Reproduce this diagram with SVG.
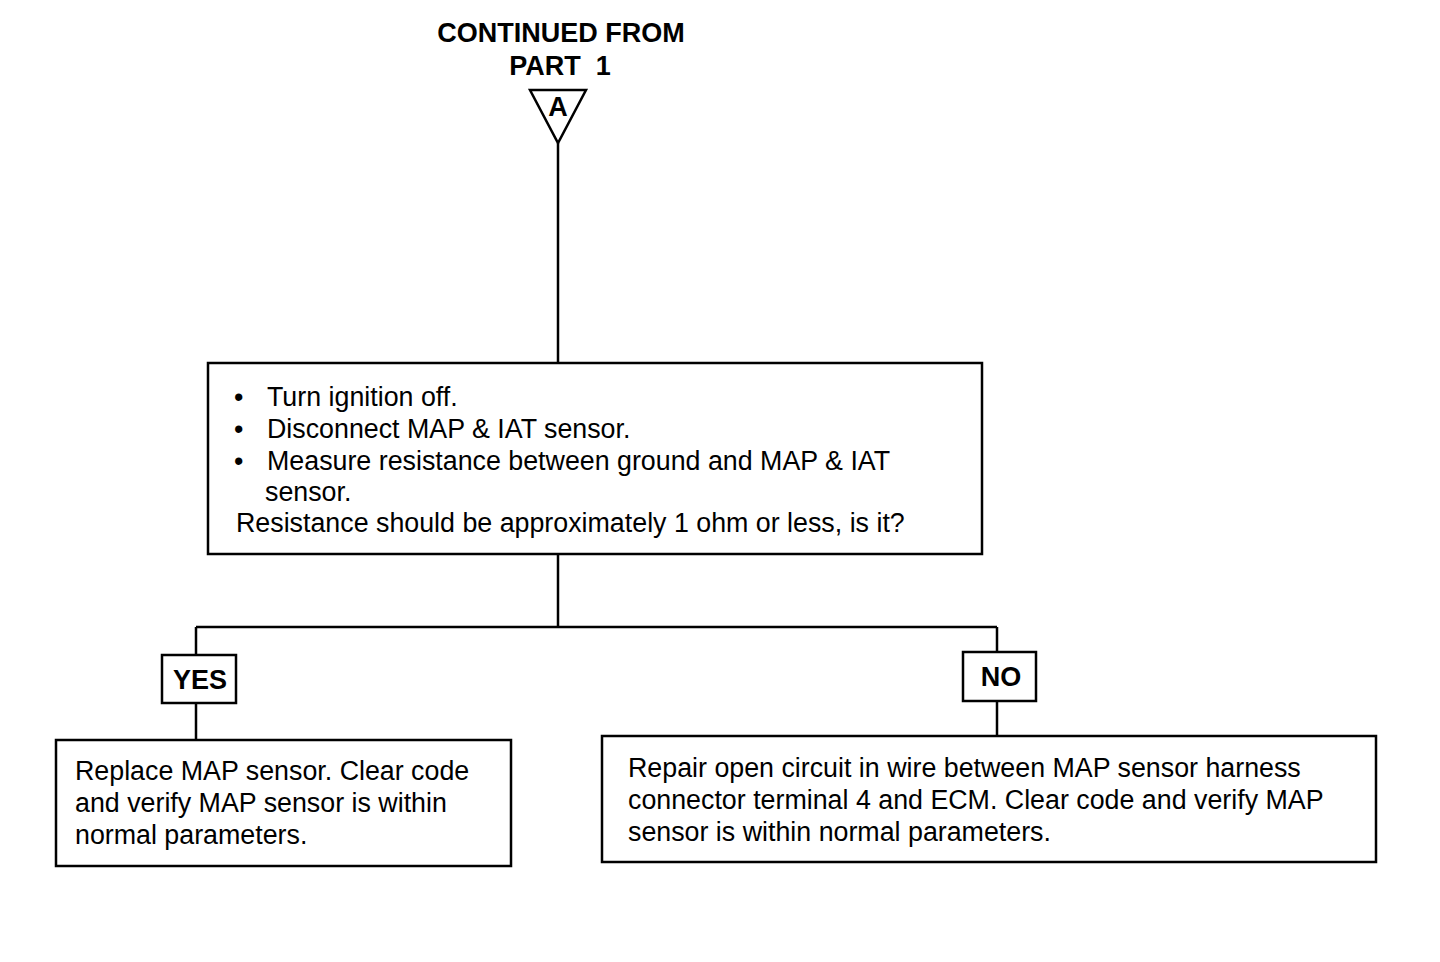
<svg xmlns="http://www.w3.org/2000/svg" width="1440" height="962" viewBox="0 0 1440 962">
<style>
.box{fill:#fff;stroke:#000;stroke-width:2.5}
.ln{stroke:#000;stroke-width:2.5;fill:none}
.t{font-family:"Liberation Sans",Arial,sans-serif;font-size:26.8px;fill:#000}
.b{font-family:"Liberation Sans",Arial,sans-serif;font-size:27px;font-weight:bold;fill:#000;white-space:pre}
</style>
<rect width="1440" height="962" fill="#fff"/>
<g id="connectors">
<line class="ln" x1="558" y1="143" x2="558" y2="363"/>
<line class="ln" x1="558" y1="554" x2="558" y2="627"/>
<line class="ln" x1="196" y1="627" x2="997" y2="627"/>
<line class="ln" x1="196" y1="627" x2="196" y2="655"/>
<line class="ln" x1="196" y1="703" x2="196" y2="740"/>
<line class="ln" x1="997" y1="627" x2="997" y2="652"/>
<line class="ln" x1="997" y1="701" x2="997" y2="736"/>
</g>
<g id="start">
<text class="b" x="561" y="42" text-anchor="middle">CONTINUED FROM</text>
<text class="b" x="560" y="75" text-anchor="middle">PART  1</text>
<polygon class="box" points="530,90 586,90 558,143"/>
<text class="b" x="558" y="116" text-anchor="middle" font-size="21">A</text>
</g>
<g id="check">
<rect class="box" x="208" y="363" width="774" height="191"/>
<text class="t" x="234" y="406">•</text><text class="t" x="267" y="406">Turn ignition off.</text>
<text class="t" x="234" y="438">•</text><text class="t" x="267" y="438">Disconnect MAP &amp; IAT sensor.</text>
<text class="t" x="234" y="470">•</text><text class="t" x="267" y="470">Measure resistance between ground and MAP &amp; IAT</text>
<text class="t" x="265" y="501">sensor.</text>
<text class="t" x="236" y="532">Resistance should be approximately 1 ohm or less, is it?</text>
</g>
<g id="yes">
<rect class="box" x="162" y="655" width="74" height="48"/>
<text class="b" x="200" y="689" text-anchor="middle">YES</text>
</g>
<g id="no">
<rect class="box" x="963" y="652" width="73" height="49"/>
<text class="b" x="1001" y="686" text-anchor="middle">NO</text>
</g>
<g id="replace">
<rect class="box" x="56" y="740" width="455" height="126"/>
<text class="t" x="75" y="780">Replace MAP sensor. Clear code</text>
<text class="t" x="75" y="812">and verify MAP sensor is within</text>
<text class="t" x="75" y="844">normal parameters.</text>
</g>
<g id="repair">
<rect class="box" x="602" y="736" width="774" height="126"/>
<text class="t" x="628" y="777">Repair open circuit in wire between MAP sensor harness</text>
<text class="t" x="628" y="809">connector terminal 4 and ECM. Clear code and verify MAP</text>
<text class="t" x="628" y="841">sensor is within normal parameters.</text>
</g>
</svg>
